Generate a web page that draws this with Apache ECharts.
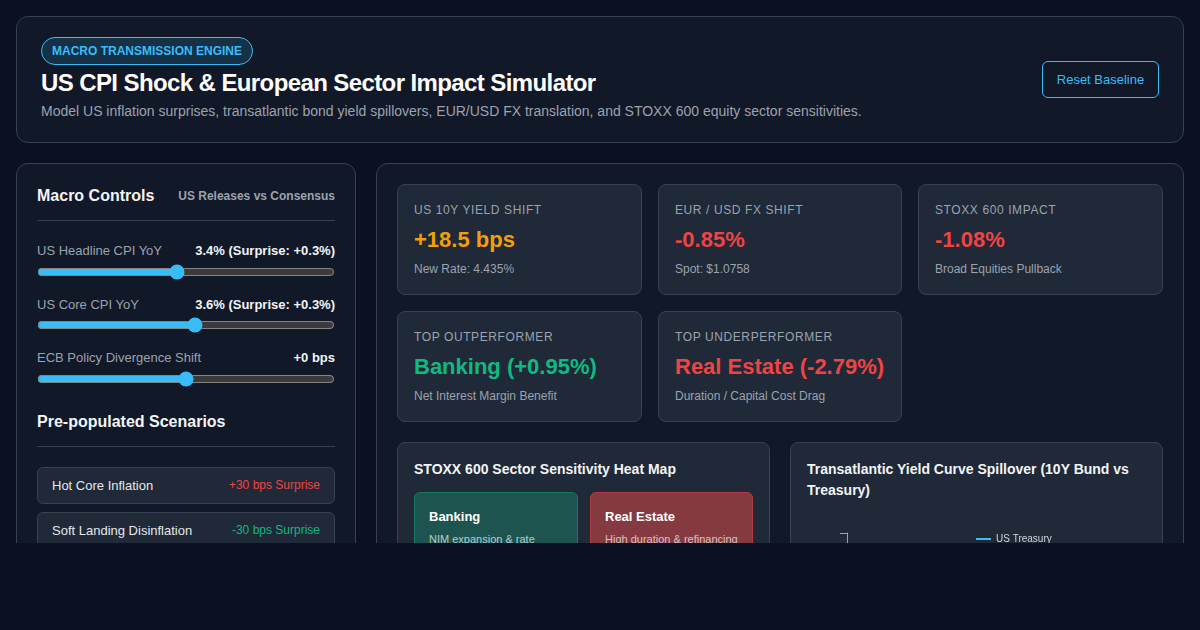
<!DOCTYPE html>
<html><head><meta charset="utf-8">
<script src="https://cdn.jsdelivr.net/npm/echarts@6/dist/echarts.min.js"></script>
<style>
*{box-sizing:border-box;margin:0;padding:0}
html,body{width:1200px;height:630px;overflow:hidden;background:#0b1120;font-family:"Liberation Sans",Arial,sans-serif;color:#f3f4f6}
#clip{position:absolute;left:0;top:0;width:1200px;height:543px;overflow:hidden}
.panel{position:absolute;background:#111827;border:1px solid #374151;border-radius:12px}
#head{left:16px;top:16px;width:1168px;height:127px}
#badge{position:absolute;left:24px;top:20px;height:28px;width:212px;border:1px solid #38bdf8;border-radius:14px;background:rgba(56,189,248,.15);color:#38bdf8;font-size:12px;font-weight:700;line-height:26px;text-align:center}
#title{position:absolute;left:24px;top:50px;font-size:24px;font-weight:700;letter-spacing:-.6px;color:#fff;white-space:nowrap;line-height:32px}
#sub{position:absolute;left:24px;top:84px;font-size:14px;color:#9ca3af;white-space:nowrap;line-height:20px}
#reset{position:absolute;right:24px;top:44px;width:117px;height:37px;border:1px solid #38bdf8;border-radius:6px;color:#38bdf8;font-size:13px;line-height:35px;text-align:center}
#side{left:16px;top:163px;width:340px;height:500px}
#main{left:376px;top:163px;width:808px;height:500px}
.abs{position:absolute;white-space:nowrap}
.hr{position:absolute;left:20px;width:298px;height:1px;background:#374151}
input[type=range]{position:absolute;left:20px;width:298px;height:16px;margin:0;accent-color:#38bdf8}
.sc{position:absolute;left:20px;width:298px;height:37px;background:#1f2937;border:1px solid #374151;border-radius:6px}
.sc b{position:absolute;left:14px;top:10px;font-weight:400;font-size:13px;color:#e5e7eb;white-space:nowrap}
.sc i{position:absolute;right:14px;top:10px;font-style:normal;font-size:12px;white-space:nowrap}
.kpi{position:absolute;background:#1f2937;border:1px solid #374151;border-radius:8px;height:111px}
.kpi .t{position:absolute;left:16px;top:18px;font-size:12px;letter-spacing:.6px;color:#9ca3af;white-space:nowrap}
.kpi .v{position:absolute;left:16px;top:42px;font-size:22px;font-weight:700;white-space:nowrap}
.kpi .s{position:absolute;left:16px;top:77px;font-size:12px;color:#9ca3af;white-space:nowrap}
.box{position:absolute;background:#1f2937;border:1px solid #374151;border-radius:8px;top:278px;height:300px}
.box h3{position:absolute;left:16px;top:16px;font-size:14px;line-height:21px;font-weight:700;color:#f3f4f6}
.cell{position:absolute;top:49px;height:150px;border-radius:6px;border:1px solid}
.cell b{position:absolute;left:14px;top:16px;font-size:13px;color:#fff}
.cell span{position:absolute;left:14px;top:40px;font-size:11px;color:rgba(255,255,255,.7);white-space:nowrap}
#chart{position:absolute;left:16px;top:70px;width:339px;height:220px}
</style></head><body>
<div id="clip">
 <div class="panel" id="head">
  <div id="badge">MACRO TRANSMISSION ENGINE</div>
  <div id="title">US CPI Shock &amp; European Sector Impact Simulator</div>
  <div id="sub">Model US inflation surprises, transatlantic bond yield spillovers, EUR/USD FX translation, and STOXX 600 equity sector sensitivities.</div>
  <div id="reset">Reset Baseline</div>
 </div>
 <div class="panel" id="side"></div>
 <div class="panel" id="main">
   <div class="box" style="left:20px;width:373px"><h3>STOXX 600 Sector Sensitivity Heat Map</h3><div id="cells"></div></div>
   <div class="box" style="left:413px;width:373px"><h3 style="width:340px">Transatlantic Yield Curve Spillover (10Y Bund vs Treasury)</h3><div id="chart"></div></div>
 </div>
</div>
<script>
// ----- data -----
const sliderLabels = ['US Headline CPI YoY','US Core CPI YoY','ECB Policy Divergence Shift'];
const sliderReadouts = ['3.4% (Surprise: +0.3%)','3.6% (Surprise: +0.3%)','+0 bps'];
const sliderValues = [3.4,3.6,0];
const sliderMins = [2,2,-50];
const sliderMaxs = [5,5,50];
const scenarioNames = ['Hot Core Inflation','Soft Landing Disinflation'];
const scenarioTags = ['+30 bps Surprise','-30 bps Surprise'];
const kpiTitles = ['US 10Y YIELD SHIFT','EUR / USD FX SHIFT','STOXX 600 IMPACT','TOP OUTPERFORMER','TOP UNDERPERFORMER'];
const kpiValues = ['+18.5 bps','-0.85%','-1.08%','Banking (+0.95%)','Real Estate (-2.79%)'];
const kpiNotes = ['New Rate: 4.435%','Spot: $1.0758','Broad Equities Pullback','Net Interest Margin Benefit','Duration / Capital Cost Drag'];
const kpiColors = ['#f59e0b','#ef4444','#ef4444','#10b981','#ef4444'];
const sectorNames = ['Banking','Real Estate'];
const sectorNotes = ['NIM expansion & rate','High duration & refinancing'];
// yield curve: only the top of this chart is visible in the reference
const tenors = ['2Y','5Y','10Y','30Y'];
const usTreasury = [4.62,4.38,4.435,4.6];
const germanBund = [2.7,2.6,2.66,2.9];
const yAxisMin = 2, yAxisMax = 5, yAxisStep = 1;

const side = document.getElementById('side');
function abs(parent,html,css){const d=document.createElement('div');d.className='abs';d.style.cssText=css;d.innerHTML=html;parent.appendChild(d);return d;}
abs(side,'Macro Controls','left:20px;top:23px;font-size:16px;font-weight:700;color:#f3f4f6');
abs(side,'US Releases vs Consensus','right:20px;top:25px;font-size:12px;font-weight:700;color:#9ca3af');
side.insertAdjacentHTML('beforeend','<div class="hr" style="top:56px"></div>');
const rowTops=[79,133,186], sliderTops=[100,153,207];
sliderLabels.forEach((l,i)=>{
  abs(side,l,`left:20px;top:${rowTops[i]}px;font-size:13px;color:#9ca3af`);
  abs(side,sliderReadouts[i],`right:20px;top:${rowTops[i]}px;font-size:13px;font-weight:700;color:#f3f4f6`);
  const r=document.createElement('input');r.type='range';r.min=sliderMins[i];r.max=sliderMaxs[i];r.step=0.1;r.value=sliderValues[i];r.style.top=sliderTops[i]+'px';side.appendChild(r);
});
abs(side,'Pre-populated Scenarios','left:20px;top:249px;font-size:16px;font-weight:700;color:#f3f4f6');
side.insertAdjacentHTML('beforeend','<div class="hr" style="top:282px"></div>');
scenarioNames.forEach((n,i)=>{
  side.insertAdjacentHTML('beforeend',`<div class="sc" style="top:${303+i*45}px"><b>${n}</b><i style="color:${i?'#10b981':'#ef4444'}">${scenarioTags[i]}</i></div>`);
});
const main=document.getElementById('main');
const kx=[20,281,541], kw=[245,244,245];
kpiTitles.forEach((t,i)=>{
  const c=i%3;const top=i<3?20:147;
  main.insertAdjacentHTML('beforeend',`<div class="kpi" style="left:${kx[c]}px;top:${top}px;width:${kw[c]}px"><div class="t">${t}</div><div class="v" style="color:${kpiColors[i]}">${kpiValues[i]}</div><div class="s">${kpiNotes[i]}</div></div>`);
});
const cellBg=['#1d5450','#843a40'],cellBd=['#167a62','#b23a42'],cellX=[16,192],cellW=[164,163];
document.getElementById('cells').innerHTML=sectorNames.map((n,i)=>`<div class="cell" style="left:${cellX[i]}px;width:${cellW[i]}px;background:${cellBg[i]};border-color:${cellBd[i]}"><b>${n}</b><span>${sectorNotes[i]}</span></div>`).join('');
const chart=echarts.init(document.getElementById('chart'),null,{renderer:'canvas'});
chart.setOption({
  animation:false,
  backgroundColor:'transparent',
  textStyle:{fontFamily:'"Liberation Sans",Arial,sans-serif'},
  legend:{show:true,orient:'vertical',left:169,top:21,itemWidth:15,itemHeight:2,itemGap:6,icon:'rect',padding:0,
    textStyle:{color:'#d1d5db',fontSize:10},data:['US Treasury','German Bund']},
  grid:{left:40,right:10,top:20,bottom:30},
  xAxis:{type:'category',data:tenors,axisLine:{lineStyle:{color:'#9ca3af'}},axisLabel:{color:'#9ca3af',fontSize:10}},
  yAxis:{type:'value',min:yAxisMin,max:yAxisMax,interval:yAxisStep,axisLine:{show:true,lineStyle:{color:'#9ca3af'}},axisTick:{show:true,length:7,lineStyle:{color:'#9ca3af'}},splitLine:{show:false},axisLabel:{color:'#9ca3af',fontSize:10,formatter:v=>v===yAxisMax?'':String(v)}},
  series:[
    {name:'US Treasury',type:'line',data:usTreasury,symbol:'none',lineStyle:{width:2,color:'#38bdf8'},itemStyle:{color:'#38bdf8'}},
    {name:'German Bund',type:'line',data:germanBund,symbol:'none',lineStyle:{width:2,color:'#f59e0b'},itemStyle:{color:'#f59e0b'}}
  ]
});
</script>
</body></html>
